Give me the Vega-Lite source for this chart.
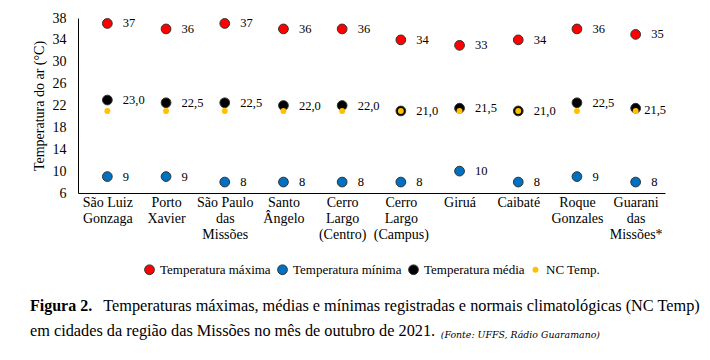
{
  "$schema": "https://vega.github.io/schema/vega-lite/v6.json",
  "width": 587,
  "height": 175,
  "autosize": {"type": "pad"},
  "padding": {"left": 30, "top": 11, "right": 5, "bottom": 5},
  "background": "white",
  "config": {
    "font": "Liberation Serif",
    "view": {"stroke": null},
    "axis": {"labelColor": "#000", "titleColor": "#000", "domainColor": "#000", "domainWidth": 1, "grid": false, "ticks": false, "tickSize": 0, "labelFont": "Liberation Serif", "titleFont": "Liberation Serif"},
    "legend": {"layout": {"bottom": {"anchor": "middle"}}}
  },
  "title": {
    "text": "Figura 2.",
    "subtitle": [
      "\u200b\u00a0\u00a0\u00a0\u00a0\u00a0\u00a0\u00a0\u00a0\u00a0\u00a0\u00a0\u00a0\u00a0\u00a0\u00a0\u00a0\u00a0\u00a0Temperaturas máximas, médias e mínimas registradas e normais climatológicas (NC Temp)",
      "em cidades da região das Missões no mês de outubro de 2021."
    ],
    "orient": "bottom",
    "anchor": "start",
    "frame": "bounds",
    "font": "Liberation Serif",
    "fontSize": 16,
    "fontWeight": "bold",
    "color": "#000",
    "subtitleFont": "Liberation Serif",
    "subtitleFontSize": 16.3,
    "subtitleColor": "#000",
    "subtitleLineHeight": 25,
    "subtitlePadding": -16,
    "offset": -42,
    "dx": -2
  },
  "data": {
    "values": [
      {"cidade": "São Luiz Gonzaga", "serie": "Temperatura máxima", "valor": 37},
      {"cidade": "Porto Xavier", "serie": "Temperatura máxima", "valor": 36},
      {"cidade": "São Paulo das Missões", "serie": "Temperatura máxima", "valor": 37},
      {"cidade": "Santo Ângelo", "serie": "Temperatura máxima", "valor": 36},
      {"cidade": "Cerro Largo (Centro)", "serie": "Temperatura máxima", "valor": 36},
      {"cidade": "Cerro Largo (Campus)", "serie": "Temperatura máxima", "valor": 34},
      {"cidade": "Giruá", "serie": "Temperatura máxima", "valor": 33},
      {"cidade": "Caibaté", "serie": "Temperatura máxima", "valor": 34},
      {"cidade": "Roque Gonzales", "serie": "Temperatura máxima", "valor": 36},
      {"cidade": "Guarani das Missões*", "serie": "Temperatura máxima", "valor": 35},
      {"cidade": "São Luiz Gonzaga", "serie": "Temperatura mínima", "valor": 9},
      {"cidade": "Porto Xavier", "serie": "Temperatura mínima", "valor": 9},
      {"cidade": "São Paulo das Missões", "serie": "Temperatura mínima", "valor": 8},
      {"cidade": "Santo Ângelo", "serie": "Temperatura mínima", "valor": 8},
      {"cidade": "Cerro Largo (Centro)", "serie": "Temperatura mínima", "valor": 8},
      {"cidade": "Cerro Largo (Campus)", "serie": "Temperatura mínima", "valor": 8},
      {"cidade": "Giruá", "serie": "Temperatura mínima", "valor": 10},
      {"cidade": "Caibaté", "serie": "Temperatura mínima", "valor": 8},
      {"cidade": "Roque Gonzales", "serie": "Temperatura mínima", "valor": 9},
      {"cidade": "Guarani das Missões*", "serie": "Temperatura mínima", "valor": 8},
      {"cidade": "São Luiz Gonzaga", "serie": "Temperatura média", "valor": 23.0},
      {"cidade": "Porto Xavier", "serie": "Temperatura média", "valor": 22.5},
      {"cidade": "São Paulo das Missões", "serie": "Temperatura média", "valor": 22.5},
      {"cidade": "Santo Ângelo", "serie": "Temperatura média", "valor": 22.0},
      {"cidade": "Cerro Largo (Centro)", "serie": "Temperatura média", "valor": 22.0},
      {"cidade": "Cerro Largo (Campus)", "serie": "Temperatura média", "valor": 21.0},
      {"cidade": "Giruá", "serie": "Temperatura média", "valor": 21.5},
      {"cidade": "Caibaté", "serie": "Temperatura média", "valor": 21.0},
      {"cidade": "Roque Gonzales", "serie": "Temperatura média", "valor": 22.5},
      {"cidade": "Guarani das Missões*", "serie": "Temperatura média", "valor": 21.5},
      {"cidade": "São Luiz Gonzaga", "serie": "NC Temp.", "valor": 21},
      {"cidade": "Porto Xavier", "serie": "NC Temp.", "valor": 21},
      {"cidade": "São Paulo das Missões", "serie": "NC Temp.", "valor": 21},
      {"cidade": "Santo Ângelo", "serie": "NC Temp.", "valor": 21},
      {"cidade": "Cerro Largo (Centro)", "serie": "NC Temp.", "valor": 21},
      {"cidade": "Cerro Largo (Campus)", "serie": "NC Temp.", "valor": 21},
      {"cidade": "Giruá", "serie": "NC Temp.", "valor": 21},
      {"cidade": "Caibaté", "serie": "NC Temp.", "valor": 21},
      {"cidade": "Roque Gonzales", "serie": "NC Temp.", "valor": 21},
      {"cidade": "Guarani das Missões*", "serie": "NC Temp.", "valor": 21}
    ]
  },
  "encoding": {
    "x": {
      "field": "cidade",
      "type": "nominal",
      "sort": null,
      "scale": {"type": "point", "padding": 0.5},
      "axis": {
        "title": null,
        "labelAngle": 0,
        "labelFontSize": 14,
        "labelLineHeight": 16,
        "labelPadding": 2,
        "labelBaseline": "top",
        "labelExpr": "split(replace(datum.label, 'São ', 'São\u00a0'), ' ')"
      }
    },
    "y": {
      "field": "valor",
      "type": "quantitative",
      "scale": {"domain": [6, 38], "nice": false, "zero": false},
      "axis": {
        "title": "Temperatura do ar (°C)",
        "titleFontSize": 14,
        "titleFontWeight": "normal",
        "titlePadding": 6,
        "values": [6, 10, 14, 18, 22, 26, 30, 34, 38],
        "labelFontSize": 14,
        "labelPadding": 12
      }
    }
  },
  "layer": [
    {
      "mark": {"type": "point", "filled": true, "opacity": 1, "stroke": "#333"},
      "encoding": {
        "color": {
          "field": "serie",
          "type": "nominal",
          "scale": {
            "domain": ["Temperatura máxima", "Temperatura mínima", "Temperatura média", "NC Temp."],
            "range": ["#FF0000", "#0070C0", "#000000", "#FFC000"]
          },
          "legend": {
            "orient": "bottom",
            "direction": "horizontal",
            "title": "(Fonte: UFFS, Rádio Guaramano)",
            "titleOrient": "bottom",
            "titleAnchor": "end",
            "titleFont": "DejaVu Serif",
            "titleFontStyle": "italic",
            "titleFontWeight": "normal",
            "titleFontSize": 9.4,
            "titleColor": "#000",
            "titlePadding": 54,
            "titleLimit": 400,
            "labelFont": "Liberation Serif",
            "labelFontSize": 13,
            "labelColor": "#000",
            "labelLimit": 300,
            "symbolType": "circle",
            "symbolSize": 26,
            "symbolStrokeColor": "#333",
            "symbolStrokeWidth": 0.5,
            "columnPadding": 4,
            "labelOffset": 4,
            "offset": 22
          }
        },
        "size": {
          "field": "serie",
          "type": "nominal",
          "scale": {
            "type": "ordinal",
            "domain": ["Temperatura máxima", "Temperatura mínima", "Temperatura média", "NC Temp."],
            "range": [95, 95, 95, 35]
          },
          "legend": null
        },
        "strokeWidth": {
          "field": "serie",
          "type": "nominal",
          "scale": {
            "type": "ordinal",
            "domain": ["Temperatura máxima", "Temperatura mínima", "Temperatura média", "NC Temp."],
            "range": [1, 1, 1, 0]
          },
          "legend": null
        }
      }
    },
    {
      "transform": [
        {"filter": "datum.serie != 'NC Temp.' && !(datum.serie == 'Temperatura média' && datum.cidade == 'Guarani das Missões*')"},
        {"calculate": "datum.serie == 'Temperatura média' ? replace(format(datum.valor, '.1f'), '.', ',') : format(datum.valor, 'd')", "as": "rotulo"}
      ],
      "mark": {"type": "text", "align": "left", "baseline": "middle", "dx": 15.5, "font": "Liberation Serif", "fontSize": 12.5, "color": "#000"},
      "encoding": {"text": {"field": "rotulo"}}
    },
    {
      "transform": [
        {"filter": "datum.serie == 'Temperatura média' && datum.cidade == 'Guarani das Missões*'"},
        {"calculate": "replace(format(datum.valor, '.1f'), '.', ',')", "as": "rotulo"}
      ],
      "mark": {"type": "text", "align": "left", "baseline": "middle", "dx": 8.5, "dy": 1.5, "font": "Liberation Serif", "fontSize": 12.5, "color": "#000"},
      "encoding": {"text": {"field": "rotulo"}}
    }
  ]
}
